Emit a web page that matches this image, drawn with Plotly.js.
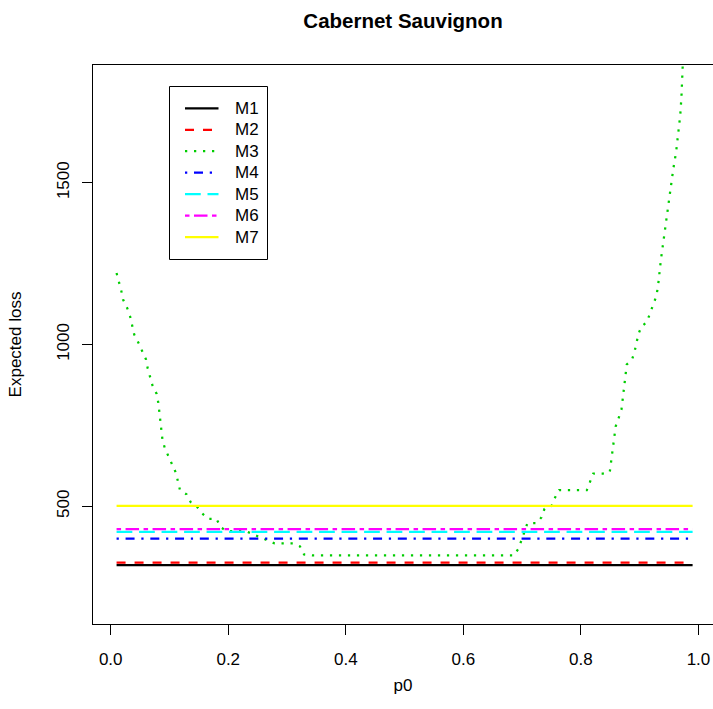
<!DOCTYPE html>
<html>
<head>
<meta charset="utf-8">
<script src="https://cdn.plot.ly/plotly-3.0.1.min.js"></script>
<style>html,body{margin:0;padding:0;background:#fff;}#chart{width:713px;height:709px;}</style>
</head>
<body>
<div id="chart"></div>
<script>
// ---- data ----
const seriesNames = ["M1", "M2", "M3", "M4", "M5", "M6", "M7"];
const p0Range = [0.01, 0.99];           // p0 grid ends for the flat models
const lossM1 = [318, 318];
const lossM2 = [326, 326];
const lossM4 = [400, 400];
const lossM5 = [421, 421];
const lossM6 = [429, 429];
const lossM7 = [501, 501];
const p0M3 = [0.010, 0.014, 0.018, 0.021, 0.028, 0.033, 0.040, 0.047, 0.053, 0.060,
              0.063, 0.071, 0.078, 0.081, 0.088, 0.092, 0.111, 0.118, 0.129, 0.136,
              0.147, 0.155, 0.166, 0.180, 0.187, 0.198, 0.230, 0.267, 0.279, 0.310,
              0.322, 0.329, 0.343, 0.686, 0.693, 0.699, 0.709, 0.725, 0.733, 0.738,
              0.750, 0.756, 0.763, 0.810, 0.815, 0.821, 0.837, 0.849, 0.857, 0.859,
              0.864, 0.869, 0.878, 0.887, 0.891, 0.898, 0.903, 0.912, 0.928, 0.931,
              0.936, 0.942, 0.946, 0.952, 0.957, 0.962, 0.966, 0.969, 0.971, 0.972, 0.974];
const lossM3 = [1221, 1195, 1166, 1139, 1113, 1087, 1031, 1006, 980, 954,
                926, 874, 848, 820, 707, 680, 603, 549, 537, 513,
                498, 479, 461, 461, 435, 423, 423, 396, 385, 385,
                376, 351, 348, 348, 367, 395, 448, 448, 466, 492,
                501, 527, 550, 550, 576, 601, 601, 605, 717, 746,
                772, 799, 938, 954, 976, 1033, 1056, 1069, 1148, 1177,
                1261, 1345, 1400, 1485, 1541, 1596, 1652, 1709, 1765, 1822, 1900];
const xTickVals = [0, 0.2, 0.4, 0.6, 0.8, 1.0];
const xTickText = ["0.0", "0.2", "0.4", "0.6", "0.8", "1.0"];
const yTickVals = [500, 1000, 1500];
const yTickText = ["500", "1000", "1500"];

// ---- styles ----
const colors = ["#000000", "#FF0000", "#00CD00", "#0000FF", "#00FFFF", "#FF00FF", "#FFFF00"];
const dashes = ["solid", "9px,9px", "2.25px,6.75px", "2.25px,6.75px,9px,6.75px",
                "15.75px,6.75px", "4.5px,4.5px,13.5px,4.5px", "solid"];
const LW = 2.25;
const FONT = "Liberation Sans, Arial, Helvetica, sans-serif";

const xs = [p0Range, p0Range, p0M3, p0Range, p0Range, p0Range, p0Range];
const ys = [lossM1, lossM2, lossM3, lossM4, lossM5, lossM6, lossM7];

const traces = seriesNames.map((n, i) => ({
  type: "scatter", mode: "lines", name: n, x: xs[i], y: ys[i],
  line: {color: colors[i], width: LW, dash: dashes[i]},
  showlegend: false, hoverinfo: "skip"
}));

// plot area geometry (pixels)
const L = 93, T = 65, W = 620, H = 559;
const px2x = px => (px - L) / W;
const py2y = py => (T + H - py) / H;

// legend drawn as box + sample lines + text
const shapes = [{
  type: "rect", xref: "paper", yref: "paper",
  x0: px2x(169.5), x1: px2x(267.5), y0: py2y(86.5), y1: py2y(259.5),
  line: {color: "#000", width: 1}, fillcolor: "rgba(0,0,0,0)"
}];
const annotations = [];
seriesNames.forEach((n, i) => {
  const yy = 108.3 + i * 21.45;
  shapes.push({
    type: "line", xref: "paper", yref: "paper",
    x0: px2x(185), x1: px2x(218.5), y0: py2y(yy), y1: py2y(yy),
    line: {color: colors[i], width: LW, dash: dashes[i]}
  });
  annotations.push({
    xref: "paper", yref: "paper", x: px2x(233), y: py2y(yy),
    xanchor: "left", yanchor: "middle", showarrow: false, text: n,
    font: {family: FONT, size: 17, color: "#000"}
  });
});

const layout = {
  width: 713, height: 709,
  margin: {l: L, r: 0, t: T, b: 709 - T - H, pad: 0},
  paper_bgcolor: "#fff", plot_bgcolor: "#fff",
  font: {family: FONT, size: 17, color: "#000"},
  title: {
    text: "<b>Cabernet Sauvignon</b>",
    font: {family: FONT, size: 20.5, color: "#000"},
    x: 0.5, xref: "paper", xanchor: "center",
    y: 1 - 21 / 709, yref: "container", yanchor: "middle"
  },
  xaxis: {
    range: [-0.0301, 1.0247], tickmode: "array", tickvals: xTickVals, ticktext: xTickText,
    ticks: "outside", ticklen: 10, tickwidth: 1, tickcolor: "#000",
    showline: true, linecolor: "#000", linewidth: 1, mirror: true,
    showgrid: false, zeroline: false, ticklabelstandoff: 10,
    tickfont: {family: FONT, size: 17, color: "#000"},
    title: {text: "p0", font: {family: FONT, size: 17, color: "#000"}, standoff: 10}
  },
  yaxis: {
    range: [136, 1864], tickmode: "array", tickvals: yTickVals, ticktext: yTickText,
    ticks: "outside", ticklen: 10, tickwidth: 1, tickcolor: "#000", tickangle: -90,
    showline: true, linecolor: "#000", linewidth: 1, mirror: false,
    showgrid: false, zeroline: false, ticklabelstandoff: 6,
    tickfont: {family: FONT, size: 17, color: "#000"},
    title: {text: "Expected loss", font: {family: FONT, size: 17, color: "#000"}, standoff: 28}
  },
  shapes: shapes,
  annotations: annotations,
  showlegend: false
};

Plotly.newPlot("chart", traces, layout, {displayModeBar: false, staticPlot: true});
</script>
</body>
</html>
